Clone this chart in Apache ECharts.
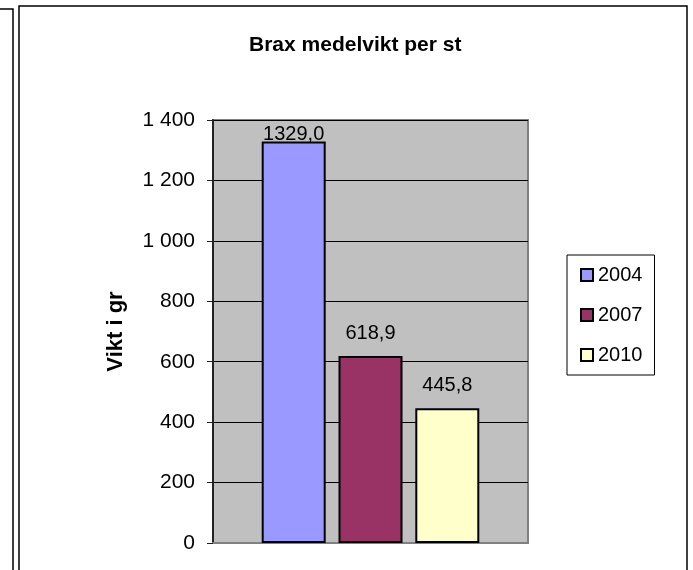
<!DOCTYPE html>
<html>
<head>
<meta charset="utf-8">
<script src="https://cdn.jsdelivr.net/npm/echarts@6/dist/echarts.min.js"></script>
<style>
  html, body { margin: 0; padding: 0; background: #fff; }
  #chart { width: 693px; height: 570px; }
</style>
</head>
<body>
<div id="chart"></div>
<script>
const categories = ['']
const years = ['2004', '2007', '2010']
const values = [1329.0, 618.9, 445.8]
const colors = ['#9999ff', '#993366', '#ffffcc']
const labelDistances = [-3, 13, 13]
const yTicks = { min: 0, max: 1400, interval: 200 }

const font = 'Liberation Sans, Arial, sans-serif'

const series = years.map((y, i) => ({
  name: y,
  type: 'bar',
  data: [values[i]],
  barWidth: 64,
  barGap: '20%',
  itemStyle: {
    color: colors[i],
    borderColor: '#000',
    borderWidth: 2,
  },
  label: {
    show: true,
    position: 'top',
    distance: labelDistances[i],
    color: '#000',
    fontSize: 20,
    fontFamily: font,
    formatter: (p) => p.value.toFixed(1).replace('.', ','),
  },
}))

const option = {
  animation: false,
  backgroundColor: '#fff',
  title: {
    text: 'Brax medelvikt per st',
    left: 249,
    top: 35,
    padding: 0,
    textStyle: { fontSize: 21, fontWeight: 'bold', color: '#000', fontFamily: font },
  },
  legend: {
    orient: 'vertical',
    left: 567,
    top: 255,
    padding: [10, 12, 10, 13],
    itemGap: 20,
    itemWidth: 12,
    itemHeight: 12,
    borderColor: '#000',
    borderWidth: 1,
    icon: 'rect',
    data: years,
    textStyle: { fontSize: 20, color: '#000', fontFamily: font },
  },
  grid: {
    left: 213,
    top: 120,
    width: 315,
    height: 423,
    show: true,
    backgroundColor: '#c0c0c0',
    borderColor: '#808080',
    borderWidth: 2,
  },
  xAxis: {
    type: 'category',
    data: categories,
    axisTick: { show: false },
    axisLabel: { show: false },
    axisLine: { show: true, lineStyle: { color: '#808080', width: 2 } },
  },
  yAxis: {
    type: 'value',
    min: yTicks.min,
    max: yTicks.max,
    interval: yTicks.interval,
    name: 'Vikt i gr',
    nameLocation: 'middle',
    nameRotate: 90,
    nameGap: 86,
    nameTextStyle: { fontSize: 22, fontWeight: 'bold', color: '#000', fontFamily: font },
    axisLine: { show: true, lineStyle: { color: '#222', width: 2 } },
    axisTick: { show: true, inside: false, length: 6, lineStyle: { color: '#222' } },
    axisLabel: {
      fontSize: 21,
      color: '#000',
      fontFamily: font,
      margin: 18,
      formatter: (v) => String(v).replace(/\B(?=(\d{3})+(?!\d))/g, ' '),
    },
    splitLine: { show: true, lineStyle: { color: '#000', width: 1 } },
  },
  graphic: [
    {
      type: 'polyline',
      silent: true,
      shape: { points: [[0, 9], [13, 9], [13, 575]] },
      style: { stroke: '#000', lineWidth: 1.5, fill: null },
    },
    {
      type: 'rect',
      silent: true,
      shape: { x: 19, y: 6, width: 668, height: 580 },
      style: { stroke: '#000', lineWidth: 1.5, fill: null },
    },
  ],
  series: series,
}

const myChart = echarts.init(document.getElementById('chart'))
myChart.setOption(option)
</script>
</body>
</html>
